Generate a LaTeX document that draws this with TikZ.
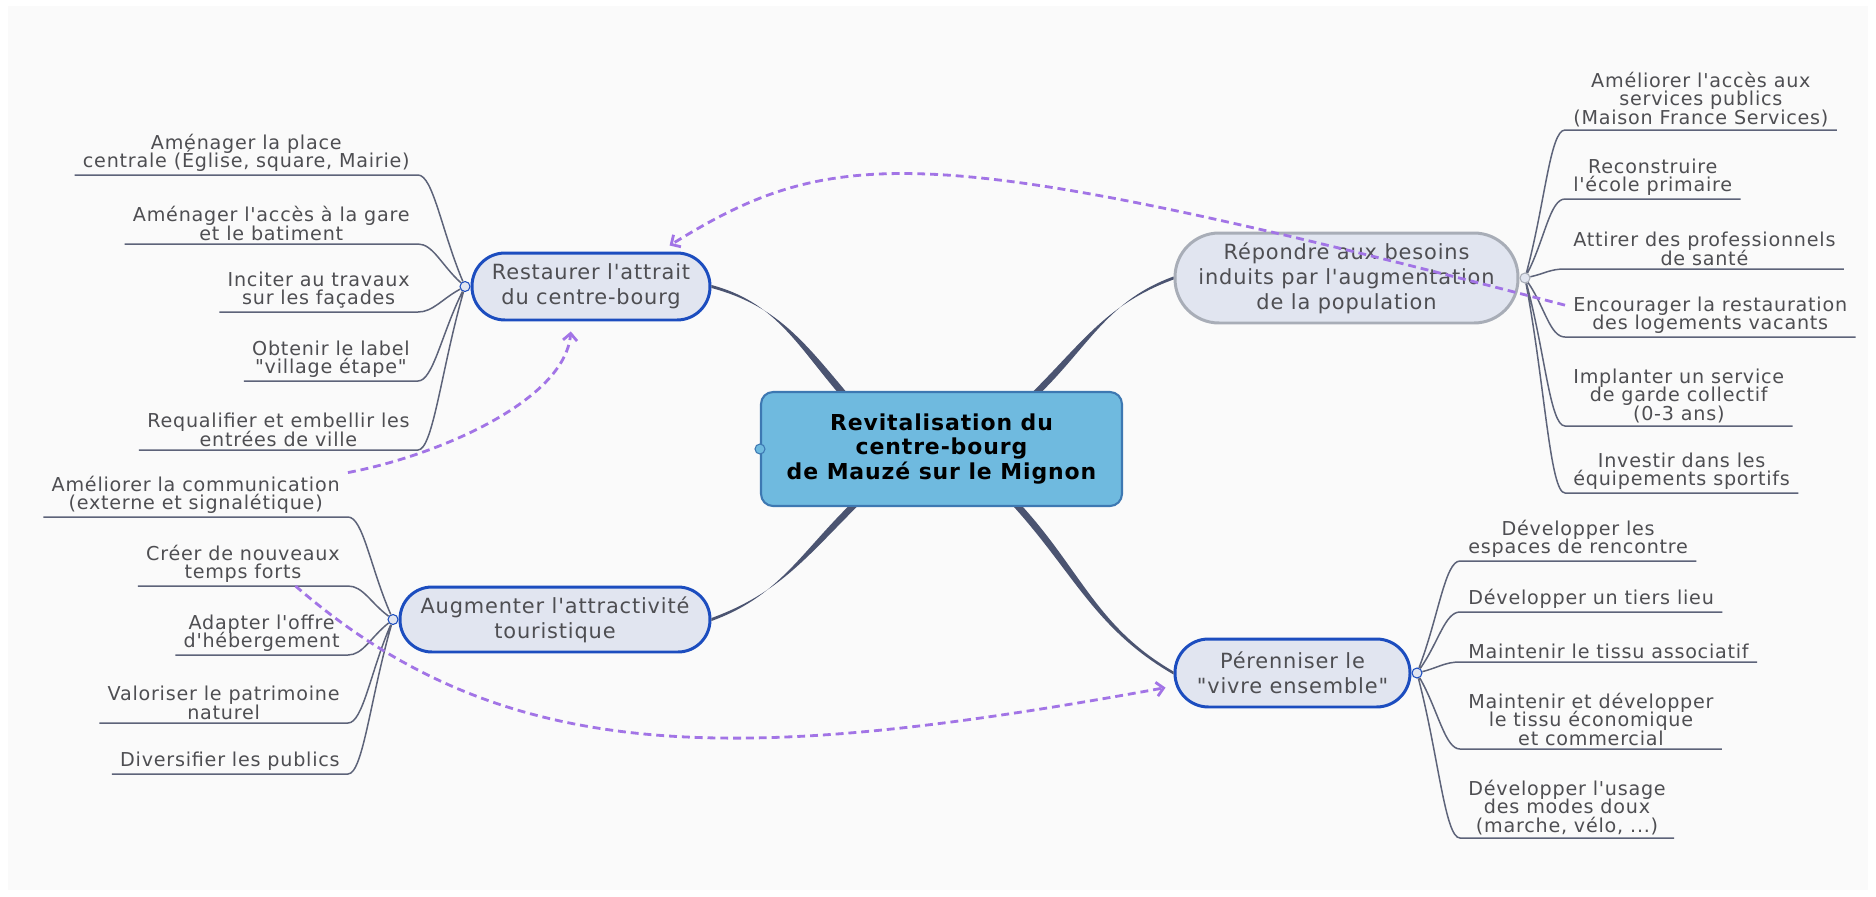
\documentclass[tikz,border=0pt]{standalone}
\usepackage{fontspec}
\newfontfamily\mapfont{DejaVu Sans}[LetterSpace=4]
\usepackage{tikz}
\usetikzlibrary{positioning, arrows.meta, calc}

\newcommand\tightlines{\setlength{\lineskiplimit}{-20pt}}

\definecolor{bggray}{HTML}{FAFAFA}
\definecolor{hubfill}{HTML}{6FBADF}
\definecolor{hubline}{HTML}{3D78B2}
\definecolor{topicfill}{HTML}{E1E5F0}
\definecolor{topicline}{HTML}{1C4DBF}
\definecolor{needline}{HTML}{A8ADB7}
\definecolor{trunkcol}{HTML}{4B5471}
\definecolor{twigcol}{HTML}{5D6379}
\definecolor{leaftext}{HTML}{4E4E52}
\definecolor{linkcol}{HTML}{A274E6}

\tikzset
{
    x=0.02cm, y=0.02cm, % une unite = un pixel de l'image
    hub/.style={draw=hubline, line width=1.2pt, fill=hubfill, rounded corners=0.24cm, minimum width=7.22cm, minimum height=2.28cm, align=center, font=\mapfont\bfseries\fontsize{12.5}{14}\selectfont\tightlines},
    topic/.style={draw=topicline, line width=1.7pt, fill=topicfill, align=center, text=leaftext, font=\mapfont\fontsize{11.9}{14.2}\selectfont\tightlines},
    leaf/.style={align=center, inner xsep=0.16cm, inner ysep=0.06cm, text=leaftext, font=\mapfont\fontsize{10.9}{10.5}\selectfont\tightlines},
    knob/.style={circle, draw=topicline, fill=topicfill, line width=0.6pt, inner sep=0pt, minimum size=0.2cm},
    trunk/.style={fill=trunkcol},
    twig/.style={draw=twigcol, line width=0.85pt},
    link/.style={draw=linkcol, line width=1.6pt, dash pattern=on 4.5pt off 2.8pt, -{Straight Barb[length=4pt,width=8pt]}},
    twigleft/.style={to path={.. controls ($(\tikztostart)!.5!(\tikztotarget.south east)$) and +(15,0) .. (\tikztotarget.south east) -- (\tikztotarget.south west)}},
    twigright/.style={to path={.. controls ($(\tikztostart)!.5!(\tikztotarget.south west)$) and +(-15,0) .. (\tikztotarget.south west) -- (\tikztotarget.south east)}},
}

\begin{document}
\begin{tikzpicture}
    % Fond
    \useasboundingbox (0,0) rectangle (1876,-896);
    \fill[white] (0,0) rectangle (1876,-896);
    \fill[bggray] (8,-6) rectangle (1868,-890);

    % Noeud central et branches
    \node[hub] (hub) at (941.5,-449) {Revitalisation du\\centre-bourg\\de Mauzé sur le Mignon};
    \node[topic, minimum width=4.76cm, minimum height=1.34cm, rounded corners=0.66cm] (rs) at (591,-286.5) {Restaurer l'attrait\\du centre-bourg};
    \node[topic, draw=needline, minimum width=6.86cm, minimum height=1.8cm, rounded corners=0.88cm] (bs) at (1346.5,-278) {Répondre aux besoins\\induits par l'augmentation\\de la population};
    \node[topic, minimum width=6.2cm, minimum height=1.3cm, rounded corners=0.64cm] (at) at (555,-619.5) {Augmenter l'attractivité\\touristique};
    \node[topic, minimum width=4.7cm, minimum height=1.36cm, rounded corners=0.67cm] (pv) at (1292.5,-673) {Pérenniser le\\"vivre ensemble"};

    \fill[trunk] ([xshift=-0.09cm]hub.150) to[out=130, in=-15] ([yshift=0.03cm]rs.east) -- ([yshift=-0.03cm]rs.east) to[out=-15, in=130] ([xshift=0.09cm]hub.150) -- cycle;
    \fill[trunk] ([xshift=-0.09cm]hub.31) to[out=45, in=200] ([yshift=-0.03cm]bs.west) -- ([yshift=0.03cm]bs.west) to[out=200, in=45] ([xshift=0.09cm]hub.31) -- cycle;
    \fill[trunk] ([xshift=-0.09cm]hub.213) to[out=225, in=20] ([yshift=-0.03cm]at.east) -- ([yshift=0.03cm]at.east) to[out=20, in=225] ([xshift=0.09cm]hub.213) -- cycle;
    \fill[trunk] ([xshift=-0.09cm]hub.-37) to[out=-48, in=150] ([yshift=-0.03cm]pv.west) -- ([yshift=0.03cm]pv.west) to[out=150, in=-48] ([xshift=0.09cm]hub.-37) -- cycle;

    % Points d'attache
    \node[knob, draw=hubline, fill=hubfill] (hc) at (hub.west) {};
    \node[knob, left=0pt of rs.west] (rc) {};
    \node[knob, draw=needline, right=0pt of bs.east] (bc) {};
    \node[knob, left=0pt of at.west] (ac) {};
    \node[knob, right=0pt of pv.east] (pc) {};

    % Feuilles : restaurer l'attrait
    \node[leaf, anchor=south east] (r1) at (418,-175) {Aménager la place\\centrale (Église, square, Mairie)};
    \node[leaf, anchor=south east] (r2) at (418,-244) {Aménager l'accès à la gare\\et le batiment};
    \node[leaf, anchor=south east] (r3) at (418,-312) {Inciter au travaux\\sur les façades};
    \node[leaf, anchor=south east] (r4) at (418,-381) {Obtenir le label\\"village étape"};
    \node[leaf, anchor=south east] (r5) at (418,-450) {Requalifier et embellir les\\entrées de ville};

    % Feuilles : attractivite touristique
    \node[leaf, anchor=south east] (a1) at (348,-517) {Améliorer la communication\\(externe et signalétique)};
    \node[leaf, anchor=south east] (a2) at (348,-586) {Créer de nouveaux\\temps forts};
    \node[leaf, anchor=south east] (a3) at (348,-655) {Adapter l'offre\\d'hébergement};
    \node[leaf, anchor=south east] (a4) at (348,-723) {Valoriser le patrimoine\\naturel};
    \node[leaf, anchor=south east] (a5) at (348,-774) {Diversifier les publics};

    % Feuilles : besoins de la population
    \node[leaf, anchor=south west] (b1) at (1565,-130) {Améliorer l'accès aux\\services publics\\(Maison France Services)};
    \node[leaf, anchor=south west] (b2) at (1565,-199) {Reconstruire\\l'école primaire};
    \node[leaf, anchor=south west] (b3) at (1565,-269) {Attirer des professionnels\\de santé};
    \node[leaf, anchor=south west] (b4) at (1565,-337) {Encourager la restauration\\des logements vacants};
    \node[leaf, anchor=south west] (b5) at (1565,-426) {Implanter un service\\de garde collectif\\(0-3 ans)};
    \node[leaf, anchor=south west] (b6) at (1565,-493) {Investir dans les\\équipements sportifs};

    % Feuilles : vivre ensemble
    \node[leaf, anchor=south west] (p1) at (1460,-561) {Développer les\\espaces de rencontre};
    \node[leaf, anchor=south west] (p2) at (1460,-612) {Développer un tiers lieu};
    \node[leaf, anchor=south west] (p3) at (1460,-662) {Maintenir le tissu associatif};
    \node[leaf, anchor=south west] (p4) at (1460,-749) {Maintenir et développer\\le tissu économique\\et commercial};
    \node[leaf, anchor=south west] (p5) at (1460,-838) {Développer l'usage\\des modes doux\\(marche, vélo, ...)};

    % Rameaux
    \draw[twig] (rc) to[twigleft] (r1) (rc) to[twigleft] (r2) (rc) to[twigleft] (r3) (rc) to[twigleft] (r4) (rc) to[twigleft] (r5);
    \draw[twig] (ac) to[twigleft] (a1) (ac) to[twigleft] (a2) (ac) to[twigleft] (a3) (ac) to[twigleft] (a4) (ac) to[twigleft] (a5);
    \draw[twig] (bc) to[twigright] (b1) (bc) to[twigright] (b2) (bc) to[twigright] (b3) (bc) to[twigright] (b4) (bc) to[twigright] (b5) (bc) to[twigright] (b6);
    \draw[twig] (pc) to[twigright] (p1) (pc) to[twigright] (p2) (pc) to[twigright] (p3) (pc) to[twigright] (p4) (pc) to[twigright] (p5);

    % Liens transversaux
    \draw[link] ([yshift=0.2cm]b4.west) .. controls (930,-140) and (835,-143) .. ([yshift=0.12cm]rs.24);
    \draw[link] (a1.north east) .. controls (440,-455) and (565,-400) .. ([yshift=-0.2cm]rs.-120);
    \draw[link] ($(a2.south)!.5!(a2.south east)$) .. controls (507,-769) and (740,-765) .. ([xshift=-0.16cm]pv.187);
\end{tikzpicture}
\end{document}
